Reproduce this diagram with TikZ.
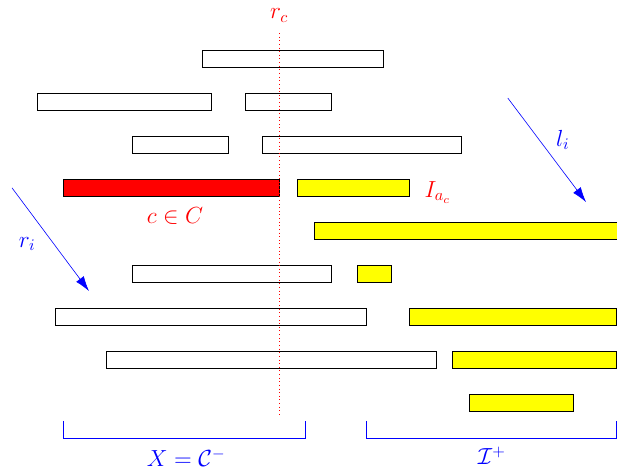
\documentclass[tikz,border=0pt]{standalone}
\usepackage{amsmath,amssymb}
\usepackage{tikz}
\usetikzlibrary{arrows.meta,positioning,calc}
\definecolor{HitYellow}{RGB}{255,255,0}
\definecolor{CutRed}{RGB}{255,0,0}
\definecolor{SweepBlue}{RGB}{0,0,255}

\begin{document}
\begin{tikzpicture}[
    seg/.style={draw=black, thin},
    hit/.style={draw=black, thin, fill=HitYellow},
    lbl/.style={font=\Large, scale=1.07, inner sep=1pt}
  ]
        \useasboundingbox (0,0) rectangle (14.35,11);
        % intervals, one row each
        \draw[seg] (4.70,9.44) rectangle (8.91,9.84);
        \draw[seg] (0.86,8.44) rectangle (4.91,8.84);
        \draw[seg] (5.70,8.44) rectangle (7.70,8.84);
        \draw[seg] (3.07,7.44) rectangle (5.30,7.84);
        \draw[seg] (6.09,7.44) rectangle (10.72,7.84);
        \draw[seg, fill=CutRed] (1.47,6.44) rectangle (6.49,6.84);
        \draw[hit] (6.91,6.44) rectangle (9.51,6.84);
        \draw[hit] (7.30,5.44) rectangle (14.60,5.84);
        \draw[seg] (3.07,4.44) rectangle (7.70,4.84);
        \draw[hit] (8.30,4.44) rectangle (9.09,4.84);
        \draw[seg] (1.28,3.44) rectangle (8.51,3.84);
        \draw[hit] (9.51,3.44) rectangle (14.33,3.84);
        \draw[seg] (2.47,2.44) rectangle (10.14,2.84);
        \draw[hit] (10.51,2.44) rectangle (14.33,2.84);
        \draw[hit] (10.91,1.44) rectangle (13.33,1.84);
        % cut line
        \draw[dotted, CutRed] (6.49,10.23)--(6.49,1.35);
        \node[lbl, text=CutRed] (rc) at (6.49,10.64) {$r_c$};
        \node[lbl, text=CutRed] (cC) at (4.07,5.98) {$c\in C$};
        \node[lbl, text=CutRed] (Iac) at (10.18,6.53) {$I_{a_c}$};
        % sweep arrows
        \coordinate (ristart) at (0.28,6.63); \coordinate (riend) at (2.07,4.23);
        \coordinate (listart) at (11.81,8.72); \coordinate (liend) at (13.63,6.30);
        \draw[SweepBlue, -{Latex[length=3.5mm,width=2.2mm]}] (ristart)--(riend);
        \draw[SweepBlue, -{Latex[length=3.5mm,width=2.2mm]}] (listart)--(liend);
        \node[lbl, text=SweepBlue] (ri) at (0.63,5.33) {$r_i$};
        \node[lbl, text=SweepBlue] (li) at (13.09,7.74) {$l_i$};
        % brackets
        \draw[SweepBlue] (1.47,1.21)--(1.47,0.81)--(7.09,0.81)--(7.09,1.21);
        \draw[SweepBlue] (8.51,1.21)--(8.51,0.81)--(14.33,0.81)--(14.33,1.21);
        \node[lbl, text=SweepBlue] (X) at (4.33,0.35) {$X=\mathcal{C}^-$};
        \node[lbl, text=SweepBlue] (Ip) at (11.44,0.40) {$\mathcal{I}^+$};
      \end{tikzpicture}
\end{document}
